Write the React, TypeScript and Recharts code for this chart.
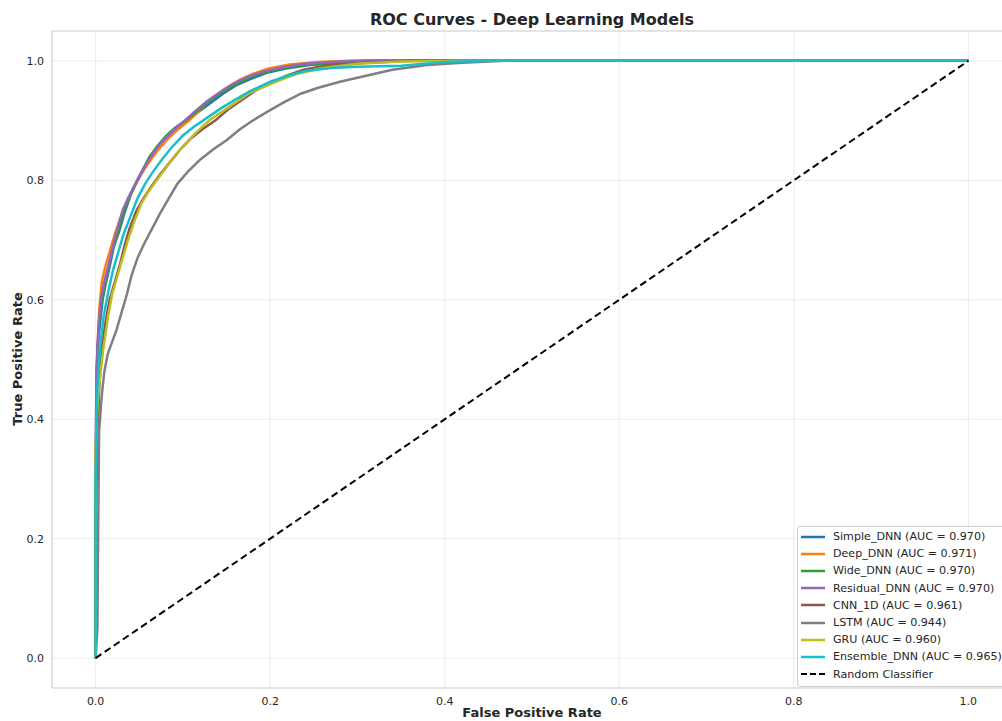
import { CartesianGrid, Legend, Line, LineChart, ReferenceLine, XAxis, YAxis } from 'recharts'

type Pt = { fpr: number; tpr: number }

const toPts = (pairs: number[][]): Pt[] => pairs.map(([fpr, tpr]) => ({ fpr, tpr }))

// ROC points per model: [false positive rate, true positive rate]
const simpleDnn = [
  [0, 0], [0, 0.22], [0.001, 0.45], [0.002, 0.52], [0.005, 0.56], [0.008, 0.6], [0.012, 0.63],
  [0.016, 0.655], [0.021, 0.69], [0.027, 0.715], [0.033, 0.745], [0.04, 0.775], [0.048, 0.8],
  [0.056, 0.82], [0.064, 0.84], [0.073, 0.86], [0.083, 0.875], [0.094, 0.885], [0.105, 0.9],
  [0.118, 0.915], [0.132, 0.93], [0.146, 0.945], [0.162, 0.96], [0.178, 0.97], [0.196, 0.98],
  [0.218, 0.987], [0.245, 0.993], [0.28, 0.997], [0.32, 1], [1, 1],
]
const deepDnn = [
  [0, 0], [0, 0.3], [0.002, 0.5], [0.004, 0.58], [0.007, 0.63], [0.011, 0.655], [0.016, 0.68],
  [0.022, 0.71], [0.028, 0.735], [0.035, 0.76], [0.043, 0.785], [0.052, 0.81], [0.061, 0.83],
  [0.071, 0.85], [0.082, 0.868], [0.094, 0.885], [0.107, 0.9], [0.121, 0.92], [0.135, 0.94],
  [0.15, 0.955], [0.165, 0.968], [0.18, 0.978], [0.197, 0.987], [0.222, 0.994], [0.255, 0.998],
  [0.29, 1], [1, 1],
]
const wideDnn = [
  [0, 0], [0, 0.28], [0.001, 0.47], [0.003, 0.54], [0.006, 0.59], [0.01, 0.62], [0.014, 0.65],
  [0.019, 0.68], [0.025, 0.71], [0.031, 0.74], [0.038, 0.77], [0.046, 0.795], [0.054, 0.818],
  [0.062, 0.84], [0.071, 0.858], [0.081, 0.875], [0.091, 0.888], [0.103, 0.9], [0.116, 0.915],
  [0.13, 0.932], [0.145, 0.948], [0.16, 0.96], [0.176, 0.972], [0.194, 0.981], [0.215, 0.988],
  [0.24, 0.993], [0.275, 0.997], [0.31, 1], [1, 1],
]
const residualDnn = [
  [0, 0], [0, 0.35], [0.001, 0.48], [0.003, 0.55], [0.006, 0.6], [0.01, 0.63], [0.015, 0.66],
  [0.02, 0.69], [0.025, 0.72], [0.031, 0.75], [0.037, 0.77], [0.044, 0.79], [0.052, 0.812],
  [0.06, 0.832], [0.069, 0.852], [0.079, 0.87], [0.09, 0.885], [0.102, 0.9], [0.115, 0.917],
  [0.128, 0.933], [0.143, 0.948], [0.158, 0.962], [0.174, 0.973], [0.192, 0.982], [0.212, 0.989],
  [0.24, 0.995], [0.27, 0.998], [0.3, 1], [1, 1],
]
const cnn1d = [
  [0, 0], [0, 0.23], [0.002, 0.35], [0.004, 0.45], [0.007, 0.52], [0.011, 0.56], [0.016, 0.6],
  [0.022, 0.63], [0.028, 0.66], [0.033, 0.69], [0.039, 0.72], [0.047, 0.75], [0.055, 0.77],
  [0.064, 0.79], [0.074, 0.81], [0.085, 0.83], [0.096, 0.85], [0.109, 0.87], [0.122, 0.885],
  [0.137, 0.9], [0.153, 0.92], [0.168, 0.935], [0.183, 0.95], [0.199, 0.962], [0.218, 0.975],
  [0.238, 0.985], [0.268, 0.993], [0.31, 0.997], [0.36, 1], [1, 1],
]
const lstm = [
  [0, 0], [0.002, 0.05], [0.003, 0.23], [0.004, 0.38], [0.007, 0.44], [0.01, 0.48], [0.014, 0.51],
  [0.019, 0.53], [0.024, 0.55], [0.03, 0.58], [0.036, 0.61], [0.041, 0.64], [0.048, 0.67],
  [0.056, 0.695], [0.065, 0.72], [0.074, 0.745], [0.084, 0.77], [0.094, 0.795], [0.106, 0.815],
  [0.12, 0.835], [0.135, 0.852], [0.15, 0.867], [0.165, 0.885], [0.18, 0.9], [0.197, 0.915],
  [0.215, 0.93], [0.235, 0.945], [0.255, 0.955], [0.28, 0.965], [0.31, 0.975], [0.34, 0.985],
  [0.38, 0.993], [0.42, 0.997], [0.47, 1], [1, 1],
]
const gru = [
  [0, 0], [0, 0.35], [0.002, 0.42], [0.005, 0.47], [0.009, 0.52], [0.014, 0.57], [0.019, 0.61],
  [0.025, 0.64], [0.031, 0.67], [0.037, 0.7], [0.044, 0.73], [0.052, 0.76], [0.06, 0.78],
  [0.07, 0.8], [0.08, 0.82], [0.09, 0.84], [0.102, 0.86], [0.115, 0.88], [0.13, 0.9],
  [0.145, 0.915], [0.16, 0.93], [0.175, 0.945], [0.19, 0.955], [0.21, 0.967], [0.23, 0.978],
  [0.26, 0.988], [0.3, 0.995], [0.35, 0.999], [0.42, 1], [1, 1],
]
const ensembleDnn = [
  [0, 0], [0, 0.3], [0.002, 0.45], [0.005, 0.52], [0.009, 0.57], [0.014, 0.61], [0.02, 0.65],
  [0.026, 0.68], [0.032, 0.71], [0.04, 0.74], [0.048, 0.77], [0.057, 0.795], [0.066, 0.815],
  [0.076, 0.835], [0.087, 0.855], [0.1, 0.875], [0.113, 0.89], [0.128, 0.905], [0.143, 0.92],
  [0.16, 0.935], [0.178, 0.95], [0.2, 0.965], [0.22, 0.975], [0.24, 0.983], [0.27, 0.988],
  [0.3, 0.99], [0.35, 0.992], [0.4, 0.998], [0.45, 1], [1, 1],
]
const chance = [
  [0, 0], [1, 1],
]

const models = [
  { name: 'Simple_DNN', auc: '0.970', color: '#1f77b4', pts: simpleDnn },
  { name: 'Deep_DNN', auc: '0.971', color: '#ff7f0e', pts: deepDnn },
  { name: 'Wide_DNN', auc: '0.970', color: '#2ca02c', pts: wideDnn },
  { name: 'Residual_DNN', auc: '0.970', color: '#9467bd', pts: residualDnn },
  { name: 'CNN_1D', auc: '0.961', color: '#8c564b', pts: cnn1d },
  { name: 'LSTM', auc: '0.944', color: '#7f7f7f', pts: lstm },
  { name: 'GRU', auc: '0.960', color: '#bcbd22', pts: gru },
  { name: 'Ensemble_DNN', auc: '0.965', color: '#17becf', pts: ensembleDnn },
]

const axisTicks = [0, 0.2, 0.4, 0.6, 0.8, 1.0]

const FONT = '"DejaVu Sans", sans-serif'
const TEXT = '#262626'
const GRID = '#ebebeb'
const SPINE = '#d4d4d4'

function LegendBox() {
  const row = (key: string, label: string, sample: JSX.Element) => (
    <div key={key} style={{ display: 'flex', alignItems: 'center', height: 17.2 }}>
      <svg width={26} height={10} style={{ marginRight: 7 }}>
        {sample}
      </svg>
      <span>{label}</span>
    </div>
  )
  return (
    <div
      style={{
        border: '1px solid #cfcfcf',
        borderRadius: 3,
        background: 'rgba(255,255,255,0.85)',
        padding: '1px 6px 3px 2px',
        fontFamily: FONT,
        fontSize: 11.1,
        color: TEXT,
        whiteSpace: 'nowrap',
        lineHeight: '17.2px',
      }}
    >
      {models.map((m) =>
        row(
          m.name,
          `${m.name} (AUC = ${m.auc})`,
          <line x1={1} y1={5} x2={25} y2={5} stroke={m.color} strokeWidth={2.5} />,
        ),
      )}
      {row(
        'random',
        'Random Classifier',
        <line x1={1} y1={5} x2={25} y2={5} stroke="#000" strokeWidth={2} strokeDasharray="6 3" />,
      )}
    </div>
  )
}

export default function App() {
  return (
    <div
      style={{
        position: 'fixed',
        left: 0,
        top: 0,
        width: 1002,
        height: 721,
        overflow: 'hidden',
        background: '#fff',
      }}
    >
      <LineChart
        width={1020}
        height={721}
        margin={{ top: 31, right: 8, bottom: 0, left: 0 }}
        style={{ fontFamily: FONT }}
      >
        <CartesianGrid stroke={GRID} strokeWidth={1} />
        <XAxis
          type="number"
          dataKey="fpr"
          domain={[-0.05, 1.05]}
          ticks={axisTicks}
          allowDataOverflow
          height={33}
          tickLine={false}
          tickMargin={3}
          axisLine={{ stroke: SPINE, strokeWidth: 1.2 }}
          tick={{ fontSize: 11, fill: TEXT }}
          tickFormatter={(v: number) => v.toFixed(1)}
        />
        <YAxis
          type="number"
          dataKey="tpr"
          domain={[-0.05, 1.05]}
          ticks={axisTicks}
          allowDataOverflow
          width={52}
          tickLine={false}
          tickMargin={2}
          axisLine={{ stroke: SPINE, strokeWidth: 1.2 }}
          tick={{ fontSize: 11, fill: TEXT }}
          tickFormatter={(v: number) => v.toFixed(1)}
        />
        <ReferenceLine y={1.05} stroke={SPINE} strokeWidth={1.2} />
        {models.map((m) => (
          <Line
            key={m.name}
            data={toPts(m.pts)}
            dataKey="tpr"
            type="linear"
            stroke={m.color}
            strokeWidth={2.5}
            dot={false}
            isAnimationActive={false}
          />
        ))}
        <Line
          data={toPts(chance)}
          dataKey="tpr"
          type="linear"
          stroke="#000"
          strokeWidth={2}
          strokeDasharray="7 4"
          dot={false}
          isAnimationActive={false}
        />
        <Legend
          layout="vertical"
          align="center"
          verticalAlign="middle"
          wrapperStyle={{ left: 797, top: 526, width: 'auto' }}
          content={() => <LegendBox />}
        />
      </LineChart>
      <div
        style={{
          position: 'absolute',
          left: 52,
          width: 960,
          top: 10,
          textAlign: 'center',
          fontFamily: FONT,
          fontWeight: 'bold',
          fontSize: 16,
          color: TEXT,
        }}
      >
        ROC Curves - Deep Learning Models
      </div>
      <div
        style={{
          position: 'absolute',
          left: 52,
          width: 960,
          top: 705,
          textAlign: 'center',
          fontFamily: FONT,
          fontWeight: 'bold',
          fontSize: 13,
          color: TEXT,
        }}
      >
        False Positive Rate
      </div>
      <div
        style={{
          position: 'absolute',
          left: 17,
          top: 359,
          transform: 'translate(-50%, -50%) rotate(-90deg)',
          fontFamily: FONT,
          fontWeight: 'bold',
          fontSize: 13,
          color: TEXT,
          whiteSpace: 'nowrap',
        }}
      >
        True Positive Rate
      </div>
    </div>
  )
}
